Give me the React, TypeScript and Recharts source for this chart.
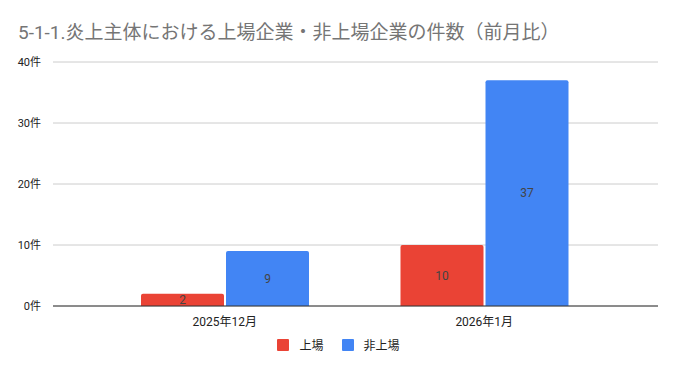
import { BarChart, Bar, XAxis, YAxis, CartesianGrid, Legend, LabelList } from "recharts";

const months = ["2025年12月", "2026年1月"];
const listed = [2, 10];
const unlisted = [9, 37];
const yTicks = [0, 10, 20, 30, 40];

const data = months.map((m, i) => ({ month: m, listed: listed[i], unlisted: unlisted[i] }));

const font = "Roboto, 'Noto Sans CJK JP', sans-serif";

const LegendContent = (props: any) => (
  <div style={{ display: "flex", justifyContent: "center", alignItems: "center", fontSize: 12, fontFamily: font, color: "#222" }}>
    {(props.payload || []).map((p: any, i: number) => (
      <div key={i} style={{ display: "flex", alignItems: "center", marginRight: i === 0 ? 18 : 0 }}>
        <span style={{ width: 12, height: 12, background: p.color, borderRadius: 1, display: "inline-block", marginRight: 10 }} />
        <span>{p.value}</span>
      </div>
    ))}
  </div>
);

export default function App() {
  return (
    <div style={{ position: "relative", width: 677, height: 371, margin: -8, background: "#fff", fontFamily: font }}>
      <div
        style={{
          position: "absolute",
          left: 18,
          top: 20,
          fontSize: 19,
          lineHeight: "26px",
          color: "#757575",
          whiteSpace: "nowrap",
        }}
      >
        5-1-1.炎上主体における上場企業・非上場企業の件数（前月比）
      </div>
      <BarChart
        width={677}
        height={371}
        data={data}
        margin={{ top: 62, right: 19, bottom: 0, left: 0 }}
        barCategoryGap={46}
        barGap={2}
      >
        <CartesianGrid vertical={false} stroke="#cccccc" />
        <XAxis
          dataKey="month"
          tickLine={false}
          axisLine={{ stroke: "#333" }}
          tick={{ fontSize: 12, fill: "#222", fontFamily: font }}
          tickMargin={5}
          padding={{ left: 42, right: 44 }}
          height={45}
        />
        <YAxis
          domain={[0, 40]}
          ticks={yTicks}
          tickFormatter={(v) => `${v}件`}
          tickLine={false}
          axisLine={false}
          width={53}
          tick={{ fontSize: 11, fill: "#222", fontFamily: font }}
          tickMargin={6}
        />
        <Legend
          verticalAlign="bottom"
          height={20}
          content={<LegendContent />}
          wrapperStyle={{ left: 0, width: 677, bottom: 15, height: 20 }}
        />
        <Bar dataKey="listed" name="上場" fill="#ea4335" isAnimationActive={false} radius={[2, 2, 0, 0]}>
          <LabelList dataKey="listed" position="center" fill="#444" fontSize={12} fontFamily={font} />
        </Bar>
        <Bar dataKey="unlisted" name="非上場" fill="#4285f4" isAnimationActive={false} radius={[2, 2, 0, 0]}>
          <LabelList dataKey="unlisted" position="center" fill="#444" fontSize={12} fontFamily={font} />
        </Bar>
      </BarChart>
    </div>
  );
}
